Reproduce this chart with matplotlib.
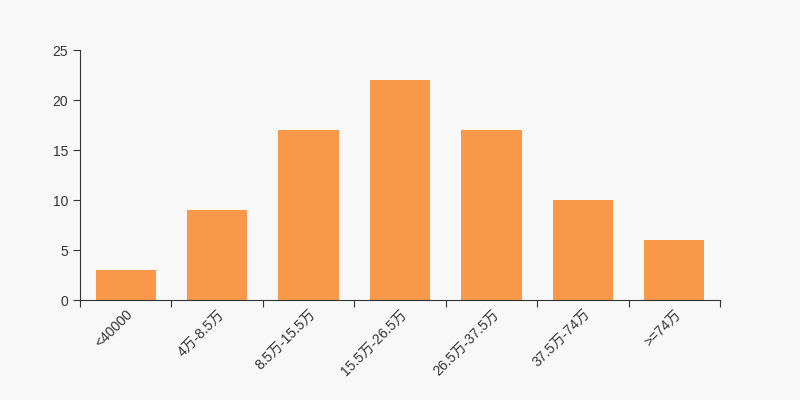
import matplotlib.pyplot as plt
import numpy as np

plt.rcParams['font.family'] = ['Liberation Sans', 'Noto Sans CJK SC', 'DejaVu Sans']

categories = ["<40000", "4万-8.5万", "8.5万-15.5万", "15.5万-26.5万", "26.5万-37.5万", "37.5万-74万", ">=74万"]
counts = [3, 9, 17, 22, 17, 10, 6]

bg = "#f8f8f8"
fig = plt.figure(figsize=(8, 4), dpi=100, facecolor=bg)
ax = fig.add_axes([0.1, 0.25, 0.8, 0.625], facecolor=bg)

x = np.arange(len(categories))
ax.bar(x, counts, width=0.66, color="#f89848")

ax.set_xlim(-0.5, len(categories) - 0.5)
ax.set_ylim(0, 25)
ax.set_yticks([0, 5, 10, 15, 20, 25])
ax.set_xticks(np.arange(len(categories) + 1) - 0.5)
ax.set_xticklabels([])
ax.set_xticks(x, minor=True)
ax.set_xticklabels(categories, minor=True, rotation=45, ha='right', va='top',
                   rotation_mode='anchor')
ax.tick_params(axis='x', which='minor', length=0, pad=5, labelsize=10, labelcolor='#333333')
ax.tick_params(axis='x', which='major', length=5, color='#333333')
ax.tick_params(axis='y', length=5, labelsize=10, labelcolor='#333333', color='#333333')

for s in ['top', 'right']:
    ax.spines[s].set_visible(False)
for s in ['left', 'bottom']:
    ax.spines[s].set_color('#333333')

fig.savefig("out.png", facecolor=bg)
